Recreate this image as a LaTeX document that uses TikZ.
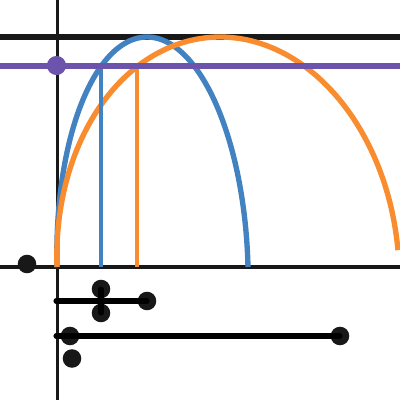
\documentclass[tikz,border=0pt]{standalone}
\usepackage{tikz}
\usetikzlibrary{positioning}
\definecolor{PlotInk}{RGB}{24, 24, 24}
\definecolor{PlotBlue}{RGB}{66, 130, 192}
\definecolor{PlotOrange}{RGB}{250, 140, 48}
\definecolor{PlotPurple}{RGB}{108, 84, 172}

\begin{document}
\begin{tikzpicture}[
          x=0.25mm, y=-0.25mm,
          axis/.style={PlotInk, line width=2.2pt},
          guide/.style={line width=3.7pt},
          curve/.style={line width=3.8pt},
          drop/.style={line width=3.3pt},
          bar/.style={black, line width=3.6pt, line cap=round},
          dot/.style={circle, fill=PlotInk, inner sep=0pt, minimum size=13.2pt},
          pdot/.style={dot, fill=PlotPurple, minimum size=13.6pt}
        ]
        \useasboundingbox (0,0) rectangle (400,400);
        % axes and level lines
        \coordinate (yt) at (57.5,0);
        \coordinate (yb) at (57.5,400);
        \coordinate (xl) at (0,267);
        \coordinate (xr) at (400,267);
        \coordinate (tl) at (0,37);
        \coordinate (tr) at (400,37);
        \coordinate (pl) at (0,66);
        \coordinate (pr) at (400,66);
        \draw[axis] (yt) -- (yb);
        \draw[axis] (xl) -- (xr);
        \draw[guide, PlotInk] (tl) -- (tr);
        % arcs
        \draw[curve, PlotBlue] plot[domain=0:180, samples=150]
          ({152.5-95.5*cos(\x)-5.5*sin(\x)}, {267-230*sin(\x)});
        \draw[curve, PlotOrange] plot[domain=0:175.8, samples=150]
          ({228-171*cos(\x)-8*sin(\x)}, {267-230*sin(\x)});
        % drops to the axis
        \coordinate (bt) at (101,66);
        \coordinate (bb) at (101,267);
        \coordinate (ot) at (137,66);
        \coordinate (ob) at (137,267);
        \draw[drop, PlotBlue] (bt) -- (bb);
        \draw[drop, PlotOrange] (ot) -- (ob);
        \draw[guide, PlotPurple] (pl) -- (pr);
        \node[pdot] (p0) at (56.5,65.5) {};
        % points below the axis
        \node[dot] (q0) at (27,264) {};
        \node[dot] (q1) at (101,289) {};
        \node[dot] (q2) at (101,313) {};
        \node[dot] (q3) at (147,301) {};
        \node[dot] (r1) at (70,336) {};
        \node[dot] (r2) at (340,336) {};
        \node[dot] (r3) at (72,358.5) {};
        \coordinate (s1) at (56,301);
        \coordinate (s2) at (56,336);
        \foreach \a/\b in {s1/q3, q1/q2, s2/r2}
          \draw[bar] (\a.center) -- (\b.center);
      \end{tikzpicture}
\end{document}
